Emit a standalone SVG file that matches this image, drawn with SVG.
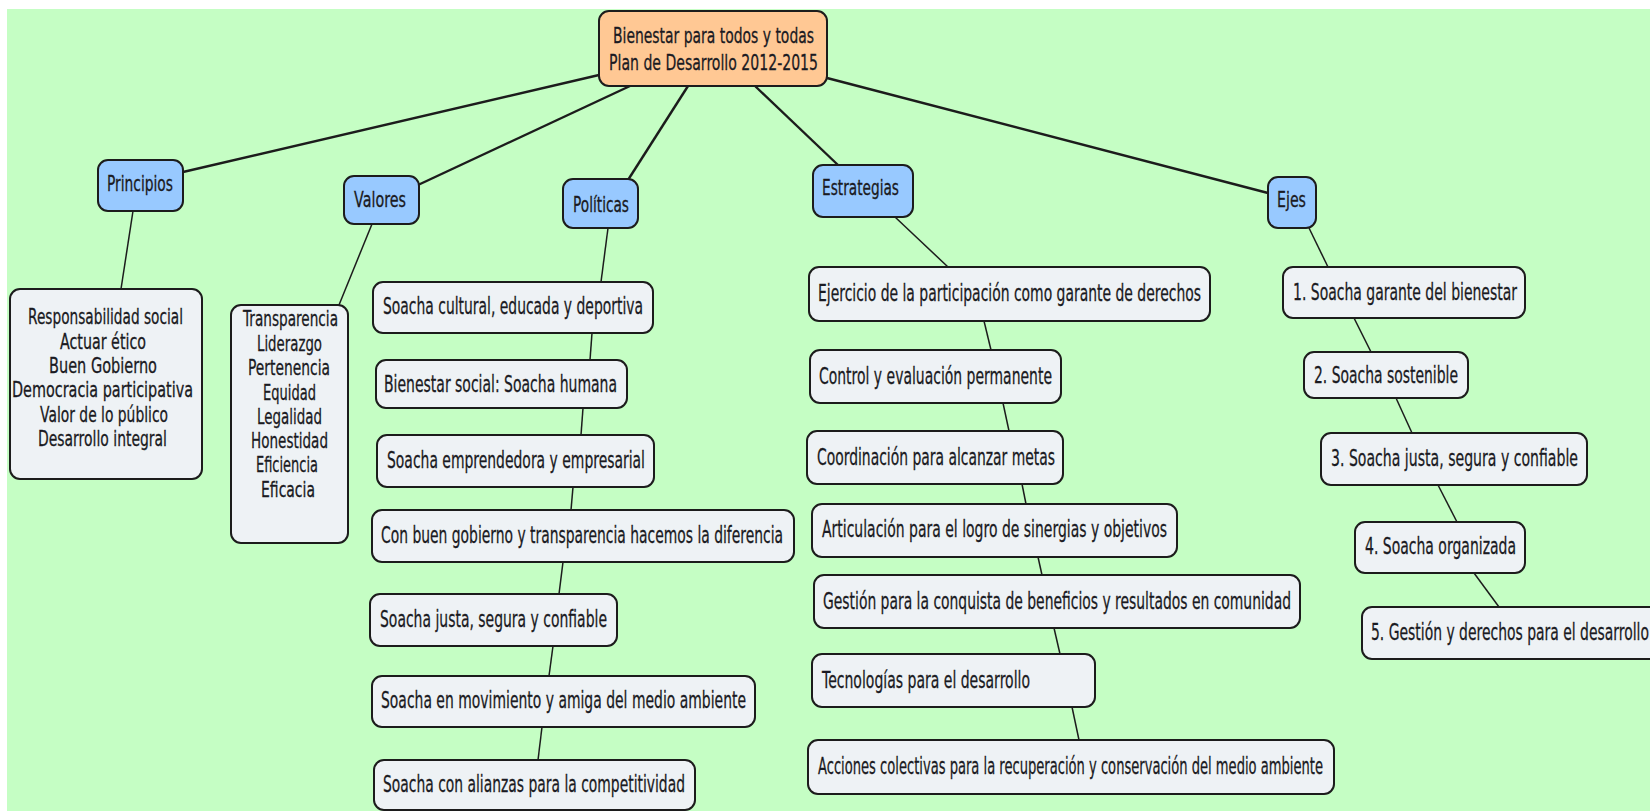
<svg xmlns="http://www.w3.org/2000/svg" width="1650" height="811" viewBox="0 0 1650 811">
  <style>
    .bg { fill: #C5FEC4; }
    .box { stroke: #1c1c1c; stroke-width: 2; }
    .root { fill: #FFC894; }
    .cat { fill: #98C9FF; }
    .item { fill: #EEF2F5; }
    .main { stroke: #1c1c1c; stroke-width: 2.4; fill: none; }
    .sub { stroke: #1c1c1c; stroke-width: 1.5; fill: none; }
    text { font-family: "DejaVu Sans", Verdana, sans-serif; fill: #1a1a22; stroke: #1a1a22; stroke-width: 0.3; }
    .t-root { font-size: 21.5px; }
    .t-cat { font-size: 20.5px; }
    .t-list { font-size: 20.5px; }
    .t-item { font-size: 23px; }
  </style>

  <!-- canvas -->
  <rect x="0" y="0" width="1650" height="811" fill="#ffffff"/>
  <rect class="bg" x="7" y="9" width="1643" height="802"/>

  <!-- connectors -->
  <g id="connectors">
    <line class="main" x1="599" y1="75" x2="183" y2="172"/>
    <line class="main" x1="630" y1="86" x2="418" y2="185"/>
    <line class="main" x1="688" y1="86" x2="628" y2="180"/>
    <line class="main" x1="755" y1="86" x2="838" y2="165"/>
    <line class="main" x1="827" y1="78" x2="1268" y2="193"/>

    <line class="sub" x1="133" y1="211" x2="121" y2="289"/>
    <line class="sub" x1="372" y1="224" x2="339" y2="305"/>

    <line class="sub" x1="608" y1="228" x2="601" y2="282"/>
    <line class="sub" x1="592" y1="333" x2="590" y2="360"/>
    <line class="sub" x1="583" y1="408" x2="581" y2="435"/>
    <line class="sub" x1="573" y1="487" x2="571" y2="510"/>
    <line class="sub" x1="563" y1="562" x2="559" y2="594"/>
    <line class="sub" x1="553" y1="646" x2="549" y2="676"/>
    <line class="sub" x1="542" y1="727" x2="538" y2="760"/>

    <line class="sub" x1="895" y1="217" x2="948" y2="267"/>
    <line class="sub" x1="984" y1="321" x2="991" y2="350"/>
    <line class="sub" x1="1003" y1="403" x2="1009" y2="431"/>
    <line class="sub" x1="1022" y1="484" x2="1026" y2="504"/>
    <line class="sub" x1="1038" y1="557" x2="1042" y2="575"/>
    <line class="sub" x1="1054" y1="628" x2="1060" y2="654"/>
    <line class="sub" x1="1072" y1="707" x2="1079" y2="740"/>

    <line class="sub" x1="1309" y1="228" x2="1328" y2="267"/>
    <line class="sub" x1="1354" y1="318" x2="1371" y2="352"/>
    <line class="sub" x1="1396" y1="398" x2="1412" y2="433"/>
    <line class="sub" x1="1438" y1="485" x2="1457" y2="522"/>
    <line class="sub" x1="1474" y1="573" x2="1499" y2="607"/>
  </g>

  <!-- central concept -->
  <g id="root">
    <rect class="box root" x="599" y="11" width="228" height="75" rx="10"/>
    <text class="t-root" x="613" y="43" textLength="201" lengthAdjust="spacingAndGlyphs">Bienestar para todos y todas</text>
    <text class="t-root" x="609" y="70" textLength="209" lengthAdjust="spacingAndGlyphs">Plan de Desarrollo 2012-2015</text>
  </g>

  <!-- categories -->
  <g id="principios">
    <rect class="box cat" x="98" y="160" width="85" height="51" rx="10"/>
    <text class="t-cat" x="107" y="191" textLength="66" lengthAdjust="spacingAndGlyphs">Principios</text>
  </g>
  <g id="valores">
    <rect class="box cat" x="344" y="176" width="75" height="48" rx="10"/>
    <text class="t-cat" x="354" y="207" textLength="52" lengthAdjust="spacingAndGlyphs">Valores</text>
  </g>
  <g id="politicas">
    <rect class="box cat" x="563" y="179" width="75" height="49" rx="10"/>
    <text class="t-cat" x="573" y="212" textLength="56" lengthAdjust="spacingAndGlyphs">Políticas</text>
  </g>
  <g id="estrategias">
    <rect class="box cat" x="813" y="165" width="100" height="52" rx="10"/>
    <text class="t-cat" x="822" y="195" textLength="77" lengthAdjust="spacingAndGlyphs">Estrategias</text>
  </g>
  <g id="ejes">
    <rect class="box cat" x="1268" y="177" width="48" height="51" rx="10"/>
    <text class="t-cat" x="1277" y="207" textLength="29" lengthAdjust="spacingAndGlyphs">Ejes</text>
  </g>

  <!-- principles list -->
  <g id="lista-principios">
    <rect class="box item" x="10" y="289" width="192" height="190" rx="10"/>
    <text class="t-list" x="28" y="324" textLength="155" lengthAdjust="spacingAndGlyphs">Responsabilidad social</text>
    <text class="t-list" x="60" y="348.5" textLength="86" lengthAdjust="spacingAndGlyphs">Actuar ético</text>
    <text class="t-list" x="49" y="373" textLength="108" lengthAdjust="spacingAndGlyphs">Buen Gobierno</text>
    <text class="t-list" x="12" y="397" textLength="181" lengthAdjust="spacingAndGlyphs">Democracia participativa</text>
    <text class="t-list" x="40" y="422" textLength="128" lengthAdjust="spacingAndGlyphs">Valor de lo público</text>
    <text class="t-list" x="38" y="446" textLength="129" lengthAdjust="spacingAndGlyphs">Desarrollo integral</text>
  </g>

  <!-- values list -->
  <g id="lista-valores">
    <rect class="box item" x="231" y="305" width="117" height="238" rx="10"/>
    <text class="t-list" x="243" y="326" textLength="95" lengthAdjust="spacingAndGlyphs">Transparencia</text>
    <text class="t-list" x="257" y="351" textLength="65" lengthAdjust="spacingAndGlyphs">Liderazgo</text>
    <text class="t-list" x="248" y="375" textLength="82" lengthAdjust="spacingAndGlyphs">Pertenencia</text>
    <text class="t-list" x="263" y="400" textLength="53" lengthAdjust="spacingAndGlyphs">Equidad</text>
    <text class="t-list" x="257" y="424" textLength="65" lengthAdjust="spacingAndGlyphs">Legalidad</text>
    <text class="t-list" x="251" y="448" textLength="77" lengthAdjust="spacingAndGlyphs">Honestidad</text>
    <text class="t-list" x="256" y="472" textLength="62" lengthAdjust="spacingAndGlyphs">Eficiencia</text>
    <text class="t-list" x="261" y="497" textLength="54" lengthAdjust="spacingAndGlyphs">Eficacia</text>
  </g>

  <!-- policies -->
  <g id="pol-1">
    <rect class="box item" x="373" y="282" width="280" height="51" rx="10"/>
    <text class="t-item" x="383" y="314" textLength="260" lengthAdjust="spacingAndGlyphs">Soacha cultural, educada y deportiva</text>
  </g>
  <g id="pol-2">
    <rect class="box item" x="376" y="360" width="251" height="48" rx="10"/>
    <text class="t-item" x="384" y="392" textLength="233" lengthAdjust="spacingAndGlyphs">Bienestar social: Soacha humana</text>
  </g>
  <g id="pol-3">
    <rect class="box item" x="377" y="435" width="277" height="52" rx="10"/>
    <text class="t-item" x="387" y="468" textLength="258" lengthAdjust="spacingAndGlyphs">Soacha emprendedora y empresarial</text>
  </g>
  <g id="pol-4">
    <rect class="box item" x="372" y="510" width="422" height="52" rx="10"/>
    <text class="t-item" x="381" y="543" textLength="402" lengthAdjust="spacingAndGlyphs">Con buen gobierno y transparencia hacemos la diferencia</text>
  </g>
  <g id="pol-5">
    <rect class="box item" x="370" y="594" width="247" height="52" rx="10"/>
    <text class="t-item" x="380" y="627" textLength="227" lengthAdjust="spacingAndGlyphs">Soacha justa, segura y confiable</text>
  </g>
  <g id="pol-6">
    <rect class="box item" x="372" y="676" width="383" height="51" rx="10"/>
    <text class="t-item" x="381" y="708" textLength="365" lengthAdjust="spacingAndGlyphs">Soacha en movimiento y amiga del medio ambiente</text>
  </g>
  <g id="pol-7">
    <rect class="box item" x="374" y="760" width="321" height="50" rx="10"/>
    <text class="t-item" x="383" y="792" textLength="302" lengthAdjust="spacingAndGlyphs">Soacha con alianzas para la competitividad</text>
  </g>

  <!-- strategies -->
  <g id="est-1">
    <rect class="box item" x="809" y="267" width="401" height="54" rx="10"/>
    <text class="t-item" x="818" y="301" textLength="383" lengthAdjust="spacingAndGlyphs">Ejercicio de la participación como garante de derechos</text>
  </g>
  <g id="est-2">
    <rect class="box item" x="810" y="350" width="251" height="53" rx="10"/>
    <text class="t-item" x="819" y="384" textLength="233" lengthAdjust="spacingAndGlyphs">Control y evaluación permanente</text>
  </g>
  <g id="est-3">
    <rect class="box item" x="807" y="431" width="256" height="53" rx="10"/>
    <text class="t-item" x="817" y="465" textLength="238" lengthAdjust="spacingAndGlyphs">Coordinación para alcanzar metas</text>
  </g>
  <g id="est-4">
    <rect class="box item" x="812" y="504" width="365" height="53" rx="10"/>
    <text class="t-item" x="822" y="537" textLength="345" lengthAdjust="spacingAndGlyphs">Articulación para el logro de sinergias y objetivos</text>
  </g>
  <g id="est-5">
    <rect class="box item" x="814" y="575" width="486" height="53" rx="10"/>
    <text class="t-item" x="823" y="609" textLength="468" lengthAdjust="spacingAndGlyphs">Gestión para la conquista de beneficios y resultados en comunidad</text>
  </g>
  <g id="est-6">
    <rect class="box item" x="812" y="654" width="283" height="53" rx="10"/>
    <text class="t-item" x="822" y="688" textLength="208" lengthAdjust="spacingAndGlyphs">Tecnologías para el desarrollo</text>
  </g>
  <g id="est-7">
    <rect class="box item" x="808" y="740" width="526" height="54" rx="10"/>
    <text class="t-item" x="818" y="774" textLength="505" lengthAdjust="spacingAndGlyphs">Acciones colectivas para la recuperación y conservación del medio ambiente</text>
  </g>

  <!-- axes -->
  <g id="eje-1">
    <rect class="box item" x="1283" y="267" width="242" height="51" rx="10"/>
    <text class="t-item" x="1293" y="300" textLength="224" lengthAdjust="spacingAndGlyphs">1. Soacha garante del bienestar</text>
  </g>
  <g id="eje-2">
    <rect class="box item" x="1304" y="352" width="164" height="46" rx="10"/>
    <text class="t-item" x="1314" y="383" textLength="144" lengthAdjust="spacingAndGlyphs">2. Soacha sostenible</text>
  </g>
  <g id="eje-3">
    <rect class="box item" x="1321" y="433" width="266" height="52" rx="10"/>
    <text class="t-item" x="1331" y="466" textLength="247" lengthAdjust="spacingAndGlyphs">3. Soacha justa, segura y confiable</text>
  </g>
  <g id="eje-4">
    <rect class="box item" x="1355" y="522" width="170" height="51" rx="10"/>
    <text class="t-item" x="1365" y="554" textLength="151" lengthAdjust="spacingAndGlyphs">4. Soacha organizada</text>
  </g>
  <g id="eje-5">
    <rect class="box item" x="1362" y="607" width="300" height="52" rx="10"/>
    <text class="t-item" x="1371" y="640" textLength="278" lengthAdjust="spacingAndGlyphs">5. Gestión y derechos para el desarrollo</text>
  </g>
</svg>
